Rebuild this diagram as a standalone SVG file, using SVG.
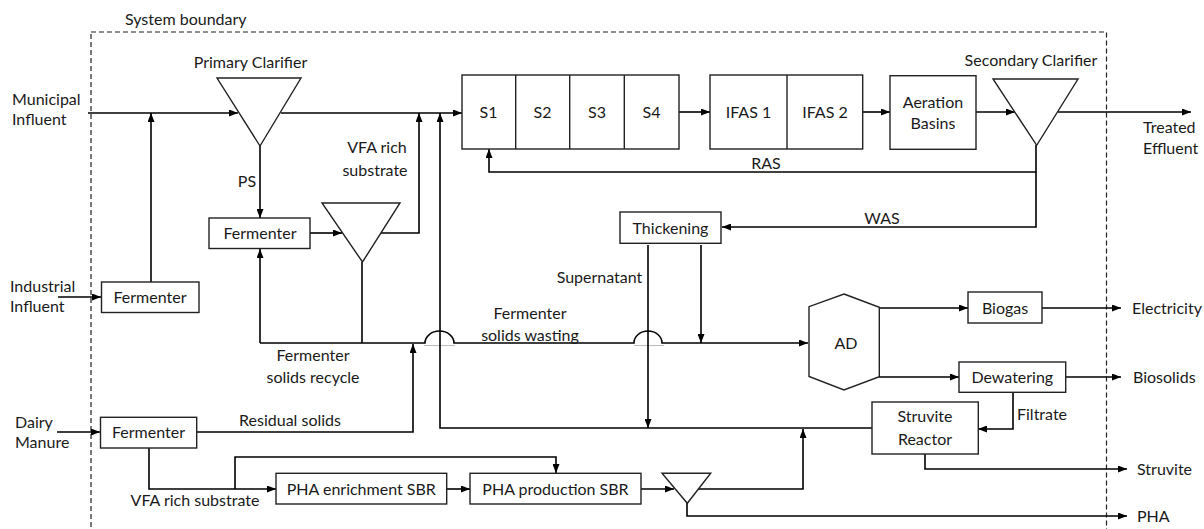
<svg xmlns="http://www.w3.org/2000/svg" width="1204" height="529" viewBox="0 0 1204 529">
<style>
text{font-family:Lato,"Liberation Sans",sans-serif;font-size:16px;fill:#1a1a1a}
.m{text-anchor:middle}
.box{fill:#fff;stroke:#222;stroke-width:1.4}
.c{fill:none;stroke:#000;stroke-width:1.6}
.a{marker-end:url(#ah)}
.b{fill:none;stroke:#222;stroke-width:1.2;stroke-dasharray:5,3}
</style>
<defs>
<marker id="ah" markerUnits="userSpaceOnUse" markerWidth="9" markerHeight="7" refX="9" refY="3.5" orient="auto">
<path d="M0,0 L9,3.5 L0,7 z" fill="#000"/>
</marker>
</defs>
<rect class="b" x="91" y="32" width="1015.5" height="520"/>
<text x="125" y="25">System boundary</text>
<text x="12" y="105">Municipal</text>
<text x="12" y="125">Influent</text>
<text x="10" y="291.5">Industrial</text>
<text x="10" y="312">Influent</text>
<text x="15" y="427.5">Dairy</text>
<text x="15" y="448">Manure</text>
<text x="1143" y="133">Treated</text>
<text x="1143" y="154">Effluent</text>
<text x="1132" y="313.5">Electricity</text>
<text x="1133" y="382.5">Biosolids</text>
<text x="1137" y="474.5">Struvite</text>
<text x="1137" y="521.5">PHA</text>
<g id="connectors">
<path class="c a" d="M88,113 L238,113"/>
<path class="c a" d="M281,113 L462,113"/>
<path class="c a" d="M151,282 L151,113"/>
<path class="c a" d="M58,297 L101,297"/>
<path class="c a" d="M260,146 L260,218"/>
<path class="c a" d="M310,233 L342,233"/>
<path class="c a" d="M381,233 L419,233 L419,113"/>
<path class="c" d="M362,262 L362,343"/>
<path class="c a" d="M260,343 L260,249"/>
<path d="M424,345.5 L455,345.5 M634,345.5 L664,345.5" stroke="#bbb" stroke-width="1" fill="none"/>
<path class="c a" d="M260,343 L425,343 A14.5,12 0 0 1 454,343 L634,343 A14,12 0 0 1 662,343 L808,343"/>
<path class="c a" d="M197,432 L413,432 L413,344"/>
<path class="c a" d="M701,245 L701,343"/>
<path class="c a" d="M648,245 L648,428"/>
<path class="c a" d="M872,428 L440,428 L440,113"/>
<path class="c a" d="M1036,145 L1036,172 L489,172 L489,149"/>
<path class="c a" d="M1036,172 L1036,227 L722,227"/>
<path class="c a" d="M679,112 L710,112"/>
<path class="c a" d="M863,112 L890,112"/>
<path class="c a" d="M976,112 L1015,112"/>
<path class="c a" d="M1058,112 L1191,112"/>
<path class="c a" d="M879,308 L968,308"/>
<path class="c a" d="M1042,308 L1121,308"/>
<path class="c a" d="M879,377 L959,377"/>
<path class="c a" d="M1066,377 L1121,377"/>
<path class="c a" d="M1013,392 L1013,429 L978,429"/>
<path class="c a" d="M925,454 L925,469 L1127,469"/>
<path class="c a" d="M57,432 L100,432"/>
<path class="c a" d="M149,448 L149,489 L276,489"/>
<path class="c a" d="M235,489 L235,457 L556,457 L556,473"/>
<path class="c a" d="M447,489 L470,489"/>
<path class="c a" d="M641,489 L674,489"/>
<path class="c a" d="M698,489 L803,489 L803,429"/>
<path class="c a" d="M687,503 L687,516 L1127,516"/>
</g>
<g id="primary-clarifier">
<polygon class="box" points="217,78 301,78 260,146"/>
<text class="m" x="250.5" y="68">Primary Clarifier</text>
</g>
<g id="fermenter-industrial">
<rect class="box" x="101.5" y="282" width="97.5" height="30.5"/>
<text class="m" x="150" y="302.5">Fermenter</text>
</g>
<g id="fermenter-primary">
<rect class="box" x="209" y="218" width="101" height="30.5"/>
<text class="m" x="260" y="238.5">Fermenter</text>
</g>
<g id="fermenter-clarifier">
<polygon class="box" points="322,203 400,203 362.5,262"/>
</g>
<g id="selectors">
<rect class="box" x="462" y="75" width="217" height="74"/>
<path d="M515.7,75 V149 M569.7,75 V149 M624.3,75 V149" stroke="#222" stroke-width="1.4"/>
<text class="m" x="488.5" y="117.5">S1</text>
<text class="m" x="542.5" y="117.5">S2</text>
<text class="m" x="597" y="117.5">S3</text>
<text class="m" x="651.5" y="117.5">S4</text>
</g>
<g id="ifas">
<rect class="box" x="710" y="75" width="152.7" height="74"/>
<path d="M787,75 V149" stroke="#222" stroke-width="1.4"/>
<text class="m" x="748.5" y="117.5">IFAS 1</text>
<text class="m" x="825" y="117.5">IFAS 2</text>
</g>
<g id="aeration-basins">
<rect class="box" x="890" y="75.7" width="86" height="73.6"/>
<text class="m" x="933" y="108">Aeration</text>
<text class="m" x="933" y="129">Basins</text>
</g>
<g id="secondary-clarifier">
<polygon class="box" points="993,79 1078,79 1036.7,145.3"/>
<text class="m" x="1031" y="66">Secondary Clarifier</text>
</g>
<text class="m" x="766" y="169">RAS</text>
<text class="m" x="882" y="223.5">WAS</text>
<text class="m" x="247" y="187">PS</text>
<text class="m" x="377" y="153">VFA rich</text>
<text class="m" x="375" y="175.5">substrate</text>
<text class="m" x="313" y="361">Fermenter</text>
<text class="m" x="313" y="382.5">solids recycle</text>
<text class="m" x="530" y="319">Fermenter</text>
<text class="m" x="530" y="340.5">solids wasting</text>
<text class="m" x="599.5" y="282.5">Supernatant</text>
<text x="1017" y="419.5">Filtrate</text>
<text class="m" x="290" y="426">Residual solids</text>
<text class="m" x="195" y="505.5">VFA rich substrate</text>
<g id="thickening">
<rect class="box" x="620" y="212" width="101" height="31.3"/>
<text class="m" x="670.5" y="233.5">Thickening</text>
</g>
<g id="ad">
<polygon class="box" points="844,294 879.3,307.3 879.3,376.7 844,390 809,376.5 809,306.7"/>
<text class="m" x="846" y="348.5">AD</text>
</g>
<g id="biogas">
<rect class="box" x="968" y="292" width="74" height="31"/>
<text class="m" x="1005" y="313.5">Biogas</text>
</g>
<g id="dewatering">
<rect class="box" x="959" y="362" width="106.7" height="30.3"/>
<text class="m" x="1012.3" y="382.5">Dewatering</text>
</g>
<g id="struvite-reactor">
<rect class="box" x="872" y="402" width="106.3" height="52"/>
<text class="m" x="925" y="422">Struvite</text>
<text class="m" x="925" y="445">Reactor</text>
</g>
<g id="fermenter-dairy">
<rect class="box" x="100.5" y="417.3" width="96.2" height="30.7"/>
<text class="m" x="148.5" y="437.5">Fermenter</text>
</g>
<g id="pha-enrichment">
<rect class="box" x="276" y="473.3" width="170.7" height="30.7"/>
<text class="m" x="361.3" y="494.5">PHA enrichment SBR</text>
</g>
<g id="pha-production">
<rect class="box" x="470" y="473.3" width="171" height="30.7"/>
<text class="m" x="555.5" y="494.5">PHA production SBR</text>
</g>
<g id="pha-clarifier">
<polygon class="box" points="662,473.3 710.7,473.3 687.3,503.3"/>
</g>
</svg>
